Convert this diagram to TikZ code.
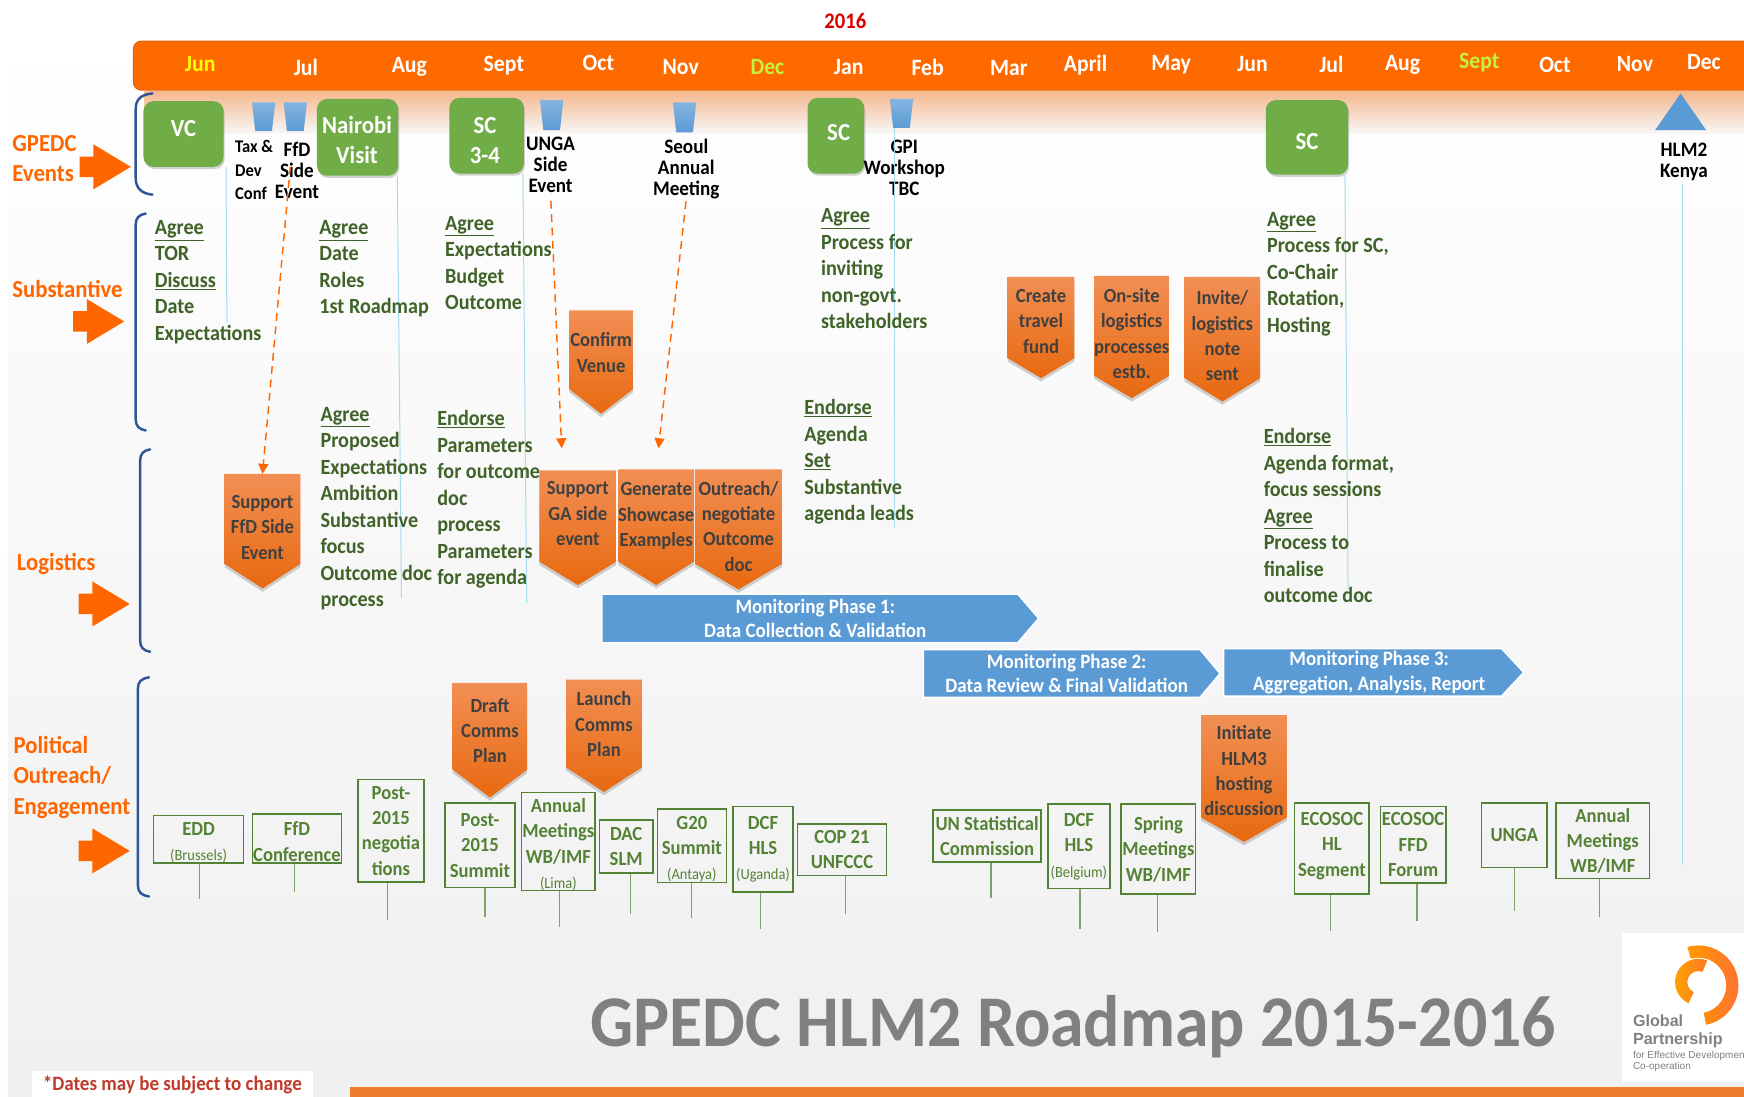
\documentclass[tikz,border=0pt]{standalone}
\usepackage{fontspec}
\setmainfont{Carlito}[FakeStretch=0.93]
\newfontfamily\logofont{Liberation Sans}
\usetikzlibrary{shapes.geometric,shapes.arrows,arrows.meta,shadows,calc}
\definecolor{hdr}{HTML}{FF6A00}
\definecolor{hdrb}{HTML}{E0620A}
\definecolor{lbl}{HTML}{FF6600}
\definecolor{navy}{HTML}{2F5597}
\definecolor{gfill}{HTML}{70AD47}
\definecolor{gtext}{HTML}{3F6328}
\definecolor{gbox}{HTML}{548235}
\definecolor{bluefill}{HTML}{5B9BD5}
\definecolor{lineb}{HTML}{A5DCF0}
\definecolor{bar}{HTML}{ED7D31}
\definecolor{dates}{HTML}{C0392B}
\definecolor{yel}{HTML}{FFFF00}
\definecolor{ygr}{HTML}{C6F03C}
\definecolor{calltop}{HTML}{F28F55}
\definecolor{callbot}{HTML}{E8690F}
\newcommand{\fs}[2]{\fontsize{#1}{#2}\selectfont}
\newcommand{\ul}[1]{\underline{#1}}
\tikzset{
  month/.style={font=\fs{21}{24}\bfseries,text=white,inner sep=0,anchor=center},
  sidelabel/.style={font=\fs{22}{27.5}\bfseries,text=lbl,align=left,anchor=north west,inner sep=0},
  sidearrow/.style={single arrow,fill=lbl,draw=none,inner sep=0,outer sep=0,minimum height=46,single arrow head extend=11,single arrow tip angle=62,anchor=center},
  roundg/.style={rounded corners=9,fill=gfill,draw=none,inner sep=0,drop shadow={opacity=.35,shadow xshift=1pt,shadow yshift=-2pt}},
  roundt/.style={text=white,font=\fs{22}{27}\bfseries,align=center,inner sep=0},
  cupfill/.style={top color=bluefill!75!white,bottom color=bluefill,draw=none},
  evlabel/.style={font=\fs{18.5}{18.8}\bfseries,text=black,align=center,inner sep=0,anchor=center},
  blocktext/.style={font=\fs{19.5}{23.8}\bfseries,text=gtext,align=left,inner sep=0,anchor=north west},
  thinb/.style={draw=lineb,line width=.9},
  dashline/.style={draw=lbl,line width=1.3,dash pattern=on 7 off 5,-{Triangle[length=9,width=9]}},
  brack/.style={draw=navy,line width=2.2,line cap=round},
  calloutfill/.style={top color=calltop,bottom color=callbot,draw=none,drop shadow={opacity=.35,shadow xshift=0pt,shadow yshift=-3pt}},
  callouttext/.style={font=\fs{18}{22.8}\bfseries,text=black!75,align=center,inner sep=0},
  phasefill/.style={fill=bluefill,draw=white,line width=1.5},
  phasetext/.style={font=\fs{18.4}{22}\bfseries,text=white,align=center,inner sep=0},
  greenbox/.style={draw=gbox,line width=1.4,inner sep=0,text=gbox,font=\fs{18}{22.8}\bfseries,align=center},
  stem/.style={draw=gbox!75!white,line width=1},
}
\newcommand{\callout}[8]{% name x1 x2 y1 yshoulder ytip ytext text
  \path[calloutfill] (#2,#4) -- (#3,#4) -- (#3,#5) -- ({(#2+#3)/2},#6) -- (#2,#5) -- cycle;
  \coordinate (#1-top) at ({(#2+#3)/2},#4);
  \node[callouttext] (#1) at ({(#2+#3)/2},#7) {#8};
}
\newcommand{\phase}[8]{% name x1 xneck xtip y1 y2 xtext text
  \path[phasefill] (#2,#5) -- (#3,#5) -- (#4,{(#5+#6)/2}) -- (#3,#6) -- (#2,#6) -- cycle;
  \node[phasetext] (#1) at (#7,{(#5+#6)/2}) {#8};
}
\newcommand{\gboxn}[8]{% name x1 y1 x2 y2 xstem yend text
  \node[greenbox,minimum width={#4-#2},minimum height={#5-#3}] (#1) at ({(#2+#4)/2},{(#3+#5)/2}) {#8};
  \coordinate (#1-end) at (#6,#7);
  \draw[stem] (#1-end |- #1.south) -- (#1-end);
}
\newcommand{\cupshape}[4]{% name cx y1 y2
  \shade[cupfill] ({#2-10.5},#3) -- ({#2+10.5},#3) -- ({#2+7.5},#4) -- ({#2-7.5},#4) -- cycle;
  \coordinate (#1) at (#2,#4);
}
\newcommand{\smalltxt}[1]{{\fs{14}{15}\mdseries #1}}
\newcommand{\shaft}{\rule{0pt}{18pt}}
\begin{document}
\begin{tikzpicture}[x=1pt,y=-1pt]
\useasboundingbox (0,0) rectangle (1568,985.4);
\fill[white] (0,0) rectangle (1568,985.4);
\shade[top color=white,bottom color=black!6] (7,30) rectangle (1568,985.4);
% header
\shade[top color=bar!55!white,bottom color=white!97!black] (130,82) rectangle (1568,120);
\fill[hdr,draw=hdrb,line width=1,rounded corners=7] (120,37) rectangle (1575,81);
\node[font=\fs{20}{24}\bfseries,text=red!85!black,inner sep=0] (yr) at (760,19) {2016};
\node[month,text=yel] (m1) at (180,58) {Jun};
\node[month] (m2) at (275,61) {Jul};
\node[month] (m3) at (368,60) {Aug};
\node[month] (m4) at (453,59) {Sept};
\node[month] (m5) at (538,57) {Oct};
\node[month] (m6) at (612,60) {Nov};
\node[month,text=ygr] (m7) at (690,60) {Dec};
\node[month] (m8) at (763,60) {Jan};
\node[month] (m9) at (834,61) {Feb};
\node[month] (m10) at (907,61) {Mar};
\node[month] (m11) at (976,59) {April};
\node[month] (m12) at (1053,58) {May};
\node[month] (m13) at (1126,58) {Jun};
\node[month] (m14) at (1197,58) {Jul};
\node[month] (m15) at (1261,58) {Aug};
\node[month,text=ygr] (m16) at (1330,56) {Sept};
\node[month] (m17) at (1398,58) {Oct};
\node[month] (m18) at (1470,58) {Nov};
\node[month] (m19) at (1532,56) {Dec};
% left labels
\node[sidelabel] (l1) at (11,121.5) {GPEDC\\Events};
\node[sidelabel] (l2) at (11,251.5) {Substantive};
\node[sidelabel] (l3) at (15,497) {Logistics};
\node[sidelabel] (l4) at (12,661.5) {Political\\Outreach/\\Engagement};
\node[sidearrow] (a1) at (87,150) {\shaft};
\node[sidearrow] (a2) at (81,289) {\shaft};
\node[sidearrow] (a3) at (86,543) {\shaft};
\node[sidearrow] (a4) at (86,765) {\shaft};
% brackets
\draw[brack] (137,84) .. controls (127,85) and (122,89) .. (122,98) -- (122,160) .. controls (122,169) and (127,174) .. (137,175);
\draw[brack] (131,192) .. controls (125,193) and (122,196) .. (122,202) -- (122,377) .. controls (122,383) and (125,386) .. (131,387);
\draw[brack] (135,404) .. controls (129,405) and (126,408) .. (126,414) -- (126,576) .. controls (126,582) and (129,585) .. (135,586);
\draw[brack] (134,609) .. controls (127,610) and (124,613) .. (124,619) -- (124,796) .. controls (124,802) and (127,805) .. (134,806);
% green events
\node[roundg,minimum width=72,minimum height=59] (vc) at (165,120.5) {};
\node[roundg,minimum width=73,minimum height=69] (nairobi) at (321.5,123.5) {};
\node[roundg,minimum width=67,minimum height=68] (sc34) at (437.5,122) {};
\node[roundg,minimum width=51,minimum height=68] (sc1) at (751.5,122) {};
\node[roundg,minimum width=74,minimum height=67] (sc2) at (1175,123.5) {};
\node[roundt] (vct) at (165,116) {VC};
\node[roundt] (nairobit) at (321,125.5) {Nairobi\\Visit};
\node[roundt] (sc34t) at (436,126) {SC\\3-4};
\node[roundt] (sc1t) at (754,119) {SC};
\node[roundt] (sc2t) at (1175,127.5) {SC};
% cups
\cupshape{c1}{237}{92}{118}
\cupshape{c2}{265.5}{92}{118}
\cupshape{c3}{496}{90}{117}
\cupshape{c4}{615.5}{92}{119}
\cupshape{c5}{810.5}{89}{115}
\fill[bluefill] (1488,117) -- (1534,117) -- (1511,84) -- cycle;
\coordinate (hlmtri) at (1511,117);
% event labels
\node[evlabel,align=left,font=\fs{16}{21}\bfseries] (taxdev) at (228.5,153) {Tax \&\\Dev\\Conf};
\node[evlabel] (ffdl) at (267,153) {FfD\\Side\\Event};
\node[evlabel] (unga) at (495,148.5) {UNGA\\Side\\Event};
\node[evlabel] (seoul) at (617,152) {Seoul\\Annual\\Meeting};
\node[evlabel] (gpi) at (813,151) {GPI\\Workshop\\TBC};
\node[evlabel] (hlm) at (1514,145.5) {HLM2\\Kenya};
% thin vertical lines
\coordinate (vcend) at (204,290);
\coordinate (nairobiend) at (361,538);
\coordinate (sc34end) at (473.5,542);
\coordinate (gpiend) at (804,475);
\coordinate (sc2end) at (1212,530);
\coordinate (hlmend) at (1513,778);
\draw[thinb] (vc.south east) ++(2,0) -- (vcend);
\draw[thinb] (nairobi.south east) ++(-1,0) -- (nairobiend);
\draw[thinb] (sc34.south east) ++(-1,0) -- (sc34end);
\draw[thinb] (c5 -| gpiend) -- (gpiend);
\draw[thinb] (sc2.south east) ++(-3,0) -- (sc2end);
\draw[thinb] (hlm.south -| hlmend) ++(0,3) -- (hlmend);
% text blocks
\node[blocktext] (b1) at (139,198) {\ul{Agree}\\TOR\\\ul{Discuss}\\Date\\Expectations};
\node[blocktext] (b2) at (287,198) {\ul{Agree}\\Date\\Roles\\1st Roadmap};
\node[blocktext] (b3) at (400,194) {\ul{Agree}\\Expectations\\Budget\\Outcome};
\node[blocktext] (b4) at (288,366) {\ul{Agree}\\Proposed\\Expectations\\Ambition\\Substantive\\focus\\Outcome doc\\process};
\node[blocktext] (b5) at (393,369) {\ul{Endorse}\\Parameters\\for outcome\\doc\\process\\Parameters\\for agenda};
\node[blocktext] (b6) at (738,187.5) {\ul{Agree}\\Process for\\inviting\\non-govt.\\stakeholders};
\node[blocktext] (b7) at (723,359) {\ul{Endorse}\\Agenda\\\ul{Set}\\Substantive\\agenda leads};
\node[blocktext] (b8) at (1139,190.5) {\ul{Agree}\\Process for SC,\\Co-Chair\\Rotation,\\Hosting};
\node[blocktext] (b9) at (1136,385) {\ul{Endorse}\\Agenda format,\\focus sessions\\\ul{Agree}\\Process to\\finalise\\outcome doc};
% callouts
\callout{cv}{512}{569}{279}{350}{372}{317}{Confirm\\Venue}
\callout{sffd}{202}{270}{426}{507}{529}{474}{Support\\FfD Side\\Event}
\callout{sga}{485}{554}{423}{505}{526}{462}{Support\\GA side\\event}
\callout{gse}{556}{624}{422}{505}{526}{464}{Generate\\Showcase\\Examples}
\callout{ono}{625}{703}{422}{507}{530}{473}{Outreach/\\negotiate\\Outcome\\doc}
\callout{ctf}{906}{966}{249}{322}{340}{289}{Create\\travel\\fund}
\callout{osl}{984}{1051}{248}{338}{358}{300}{On-site\\logistics\\processes\\estb.}
\callout{inv}{1065}{1133}{249}{340}{361}{302}{Invite/\\logistics\\note\\sent}
\callout{dcp}{407}{474}{614}{692}{717}{657}{Draft\\Comms\\Plan}
\callout{lcp}{509}{577}{611}{690}{712}{651}{Launch\\Comms\\Plan}
% dashed arrows
\coordinate (ffdstart) at (261,150);
\coordinate (gaend) at (505,403);
\coordinate (gseend) at (592,403);
\draw[dashline] (ffdstart) -- (sffd-top);
\draw[dashline,shorten <=7] (unga.south) -- (gaend);
\draw[dashline,shorten <=2] (seoul.south) -- (gseend);
% phases
\phase{p1}{541}{915}{934}{534}{578}{733}{Monitoring Phase 1:\\Data Collection \& Validation}
\phase{p2}{830}{1079}{1097}{584}{627}{959}{Monitoring Phase 2:\\Data Review \& Final Validation}
\phase{p3}{1100}{1350}{1370}{583}{626}{1231}{Monitoring Phase 3:\\Aggregation, Analysis, Report}
% outreach boxes
\gboxn{edd}{138}{734}{219}{775}{179}{808}{\rule{0pt}{18pt}EDD\\\smalltxt{(Brussels)}}
\gboxn{ffdc}{227}{732}{307}{776}{265}{802}{\rule{0pt}{18pt}FfD\\Conference}
\gboxn{neg}{322}{701}{381}{793}{348}{827}{Post-\\2015\\negotia\\tions}
\gboxn{sum}{400}{722}{463}{798}{436}{824}{Post-\\2015\\Summit}
\gboxn{am1}{469}{713}{535}{800}{503}{833}{\rule{0pt}{18pt}Annual\\Meetings\\WB/IMF\\\smalltxt{(Lima)}}
\gboxn{dac}{539}{737}{587}{785}{567}{822}{DAC\\SLM}
\gboxn{g20}{591}{728}{653}{793}{622}{825}{\rule{0pt}{18pt}G20\\Summit\\\smalltxt{(Antaya)}}
\gboxn{dcf1}{659}{725}{713}{802}{684}{835}{DCF\\HLS\\\smalltxt{(Uganda)}}
\gboxn{cop}{717}{741}{797}{787}{760}{822}{COP 21\\UNFCCC}
\gboxn{uns}{839}{728}{936}{775}{891}{807}{UN Statistical\\Commission}
\gboxn{dcf2}{942}{723}{998}{799}{971}{835}{DCF\\HLS\\\smalltxt{(Belgium)}}
\gboxn{spr}{1008}{723}{1075}{804}{1041}{838}{Spring\\Meetings\\WB/IMF}
\gboxn{eco1}{1164}{722}{1231}{804}{1196}{837}{ECOSOC\\HL\\Segment\\[-15pt]}
\gboxn{eco2}{1241}{725}{1300}{794}{1274}{828}{ECOSOC\\FFD\\Forum}
\gboxn{ungab}{1332}{722}{1391}{780}{1362}{819}{\raisebox{-6pt}{UNGA}}
\gboxn{am2}{1399}{722}{1483}{790}{1438}{824}{Annual\\Meetings\\WB/IMF}
\callout{ihl}{1080}{1157}{643}{735}{757}{693}{Initiate\\HLM3\\hosting\\discussion}
% title
\node[font=\fs{65.5}{70}\bfseries,text=black!50,inner sep=0] (title) at (965,923) {GPEDC HLM2 Roadmap 2015-2016};
% notes and bottom bar
\fill[white] (29,963) rectangle (281,986);
\node[font=\fs{18.4}{22}\bfseries,text=dates,inner sep=0] (note) at (155,975.5) {*Dates may be subject to change};
\fill[bar] (315,977) rectangle (1568,986);
% logo
\fill[white] (1458,839) rectangle (1568,973);
\shade[left color=orange!80!yellow,right color=orange!60!red!80!white] (1527,886) ++(-106:36) arc[start angle=-106,end angle=79,radius=36] -- ++(79:-11) arc[start angle=79,end angle=-106,radius=25] -- cycle;
\shade[left color=yellow!30!orange,right color=orange!75!red!85!white] (1527,883) ++(115:21) arc[start angle=115,end angle=292,radius=21] -- ++(292:-11) arc[start angle=292,end angle=115,radius=10] -- cycle;
\node[font=\logofont\fs{14.5}{16}\bfseries,text=black!50,align=left,inner sep=0,anchor=north west] (lg1) at (1468,912) {Global\\Partnership};
\node[font=\logofont\fs{9}{10.5},text=black!50,align=left,inner sep=0,anchor=north west] (lg2) at (1468,944.5) {for Effective Development\\Co-operation};
\end{tikzpicture}
\end{document}
